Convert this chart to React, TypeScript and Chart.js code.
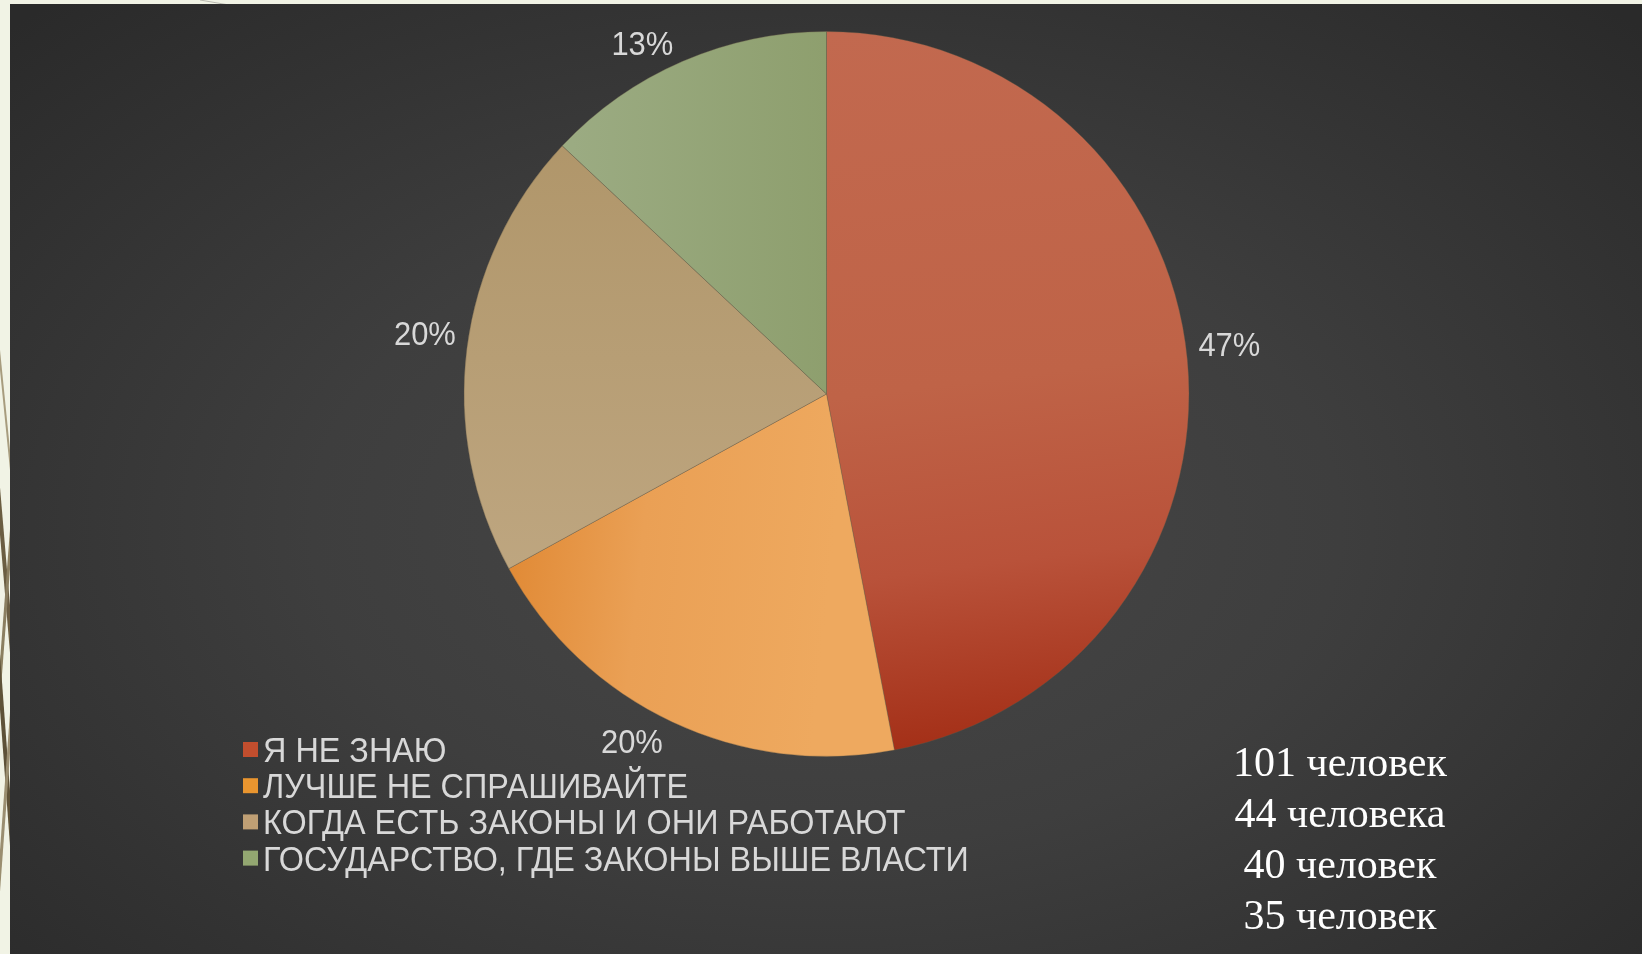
import React, { useEffect, useRef } from "react";
import { Chart, registerables } from "chart.js";

Chart.register(...registerables);

// ---------- data ----------
const categories = [
  "Я НЕ ЗНАЮ",
  "ЛУЧШЕ НЕ СПРАШИВАЙТЕ",
  "КОГДА ЕСТЬ ЗАКОНЫ И ОНИ РАБОТАЮТ",
  "ГОСУДАРСТВО, ГДЕ ЗАКОНЫ ВЫШЕ ВЛАСТИ",
];
const shares = [47, 20, 20, 13];
const peopleCounts = [101, 44, 40, 35];
const peopleWords = ["человек", "человека", "человек", "человек"];

// ---------- styles ----------
const legendColors = ["#c24e2e", "#e9952f", "#bf9f74", "#93a771"];
const SANS = '"Liberation Sans", Arial, sans-serif';
const SERIF = '"Liberation Serif", "Times New Roman", serif';

function sliceFill(chart: any, index: number): any {
  const area = chart.chartArea;
  if (!area) return legendColors[index];
  const ctx = chart.ctx;
  const cx = (area.left + area.right) / 2;
  const cy = (area.top + area.bottom) / 2;
  const r = Math.min(area.right - area.left, area.bottom - area.top) / 2;
  let g: CanvasGradient;
  if (index === 0) {
    g = ctx.createLinearGradient(cx, cy - r, cx + r * 0.25, cy + r);
    g.addColorStop(0, "#c2694f");
    g.addColorStop(0.5, "#bf6347");
    g.addColorStop(0.75, "#b9523a");
    g.addColorStop(1, "#a32e16");
  } else if (index === 1) {
    g = ctx.createLinearGradient(cx - r * 0.95, cy + r * 0.5, cx, cy + r * 0.6);
    g.addColorStop(0, "#df8630");
    g.addColorStop(0.45, "#eaa055");
    g.addColorStop(1, "#eea95f");
  } else if (index === 2) {
    g = ctx.createLinearGradient(cx, cy - r * 0.7, cx, cy + r * 0.5);
    g.addColorStop(0, "#b0966a");
    g.addColorStop(1, "#bea680");
  } else {
    g = ctx.createLinearGradient(cx - r * 0.7, cy - r * 0.5, cx, cy - r * 0.5);
    g.addColorStop(0, "#9bab82");
    g.addColorStop(1, "#8e9f6e");
  }
  return g;
}

function drawNarrow(ctx: CanvasRenderingContext2D, text: string, x: number, y: number, sx: number) {
  ctx.save();
  ctx.translate(x, y);
  ctx.scale(sx, 1);
  ctx.fillText(text, 0, 0);
  ctx.restore();
}

const labelPlugin = {
  id: "sliceLabelsAndLegend",
  afterDatasetsDraw(chart: any, _args: any, opts: any) {
    const ctx = chart.ctx as CanvasRenderingContext2D;
    const meta = chart.getDatasetMeta(0);
    const values = chart.data.datasets[0].data as number[];
    const total = values.reduce((a, b) => a + b, 0);
    ctx.save();
    const fs = opts.labelSize;
    const sx = opts.labelScale;
    const capH = fs * 0.716;
    ctx.font = `${fs}px ${SANS}`;
    ctx.fillStyle = "#d8d8d8";
    ctx.textAlign = "center";
    ctx.textBaseline = "alphabetic";
    meta.data.forEach((arc: any, i: number) => {
      const p = arc.getProps(["x", "y", "startAngle", "endAngle", "outerRadius"], true);
      const mid = (p.startAngle + p.endAngle) / 2;
      const dx = Math.cos(mid);
      const dy = Math.sin(mid);
      const text = Math.round((values[i] / total) * 100) + "%";
      const w = ctx.measureText(text).width * sx + 16;
      const h = capH + 7;
      const px = p.x + dx * (p.outerRadius + 3);
      const py = p.y + dy * (p.outerRadius + 3);
      const cx = px + Math.sign(dx) * (w / 2);
      const cy = py + Math.sign(dy) * (h / 2);
      drawNarrow(ctx, text, cx, cy + capH / 2, sx);
    });

    // legend
    const labels = chart.data.labels as string[];
    ctx.textAlign = "left";
    ctx.font = `${opts.fontSize}px ${SANS}`;
    labels.forEach((lab, i) => {
      const rowY = opts.y + i * opts.rowGap;
      ctx.fillStyle = legendColors[i];
      ctx.fillRect(opts.x, rowY - opts.box / 2, opts.box, opts.box);
      ctx.fillStyle = "#d8d8d8";
      drawNarrow(ctx, lab, opts.x + opts.box + 5, rowY + (opts.fontSize * 0.716) / 2, opts.textScale);
    });
    ctx.restore();
  },
};

export default function App() {
  const canvasRef = useRef<HTMLCanvasElement | null>(null);

  useEffect(() => {
    if (!canvasRef.current) return;
    const chart = new Chart(canvasRef.current, {
      type: "pie",
      data: {
        labels: categories,
        datasets: [
          {
            data: shares,
            backgroundColor: (c: any) => sliceFill(c.chart, c.dataIndex),
            borderColor: "rgba(100,90,70,0.35)",
            borderWidth: 1,
          },
        ],
      },
      options: {
        animation: false,
        responsive: true,
        maintainAspectRatio: false,
        layout: { padding: { top: 31, bottom: 197, left: 463, right: 452 } },
        plugins: {
          legend: { display: false },
          tooltip: { enabled: false },
          sliceLabelsAndLegend: {
            x: 243,
            y: 749.5,
            rowGap: 36.2,
            box: 15,
            fontSize: 35,
            textScale: 0.925,
            labelSize: 34,
            labelScale: 0.91,
          },
        } as any,
      },
      plugins: [labelPlugin],
    });
    return () => chart.destroy();
  }, []);

  return (
    <div
      style={{
        position: "fixed",
        left: 0,
        top: 0,
        width: 1642,
        height: 954,
        background: "#f1f3e5",
        overflow: "hidden",
      }}
    >
      <svg width={1642} height={954} style={{ position: "absolute", left: 0, top: 0 }}>
        <path d="M -6 300 L 16 520" stroke="#a79c7e" strokeWidth={2} fill="none" />
        <path d="M -6 440 L 16 700" stroke="#6b5e42" strokeWidth={4} fill="none" />
        <path d="M 16 470 L -6 760" stroke="#8b7f60" strokeWidth={3} fill="none" />
        <path d="M -6 600 L 16 900" stroke="#5e5238" strokeWidth={4} fill="none" />
        <path d="M 16 650 L -6 954" stroke="#9a8e70" strokeWidth={3} fill="none" />
        <path d="M 200 0 L 235 6" stroke="#b9b9b0" strokeWidth={1} fill="none" />
      </svg>
      <div
        style={{
          position: "absolute",
          left: 10,
          top: 4,
          right: 0,
          bottom: 0,
          background:
            "radial-gradient(ellipse 70% 75% at 50% 55%, #474747 0%, #3e3e3e 45%, #333333 75%, #2a2a2a 100%)",
        }}
      />
      <div style={{ position: "absolute", left: 0, top: 0, width: 1642, height: 954 }}>
        <canvas ref={canvasRef} />
      </div>
      <div
        style={{
          position: "absolute",
          left: 1340 - 150,
          top: 737,
          width: 300,
          textAlign: "center",
          color: "#ffffff",
          fontFamily: SERIF,
          fontSize: 42,
          lineHeight: "51px",
        }}
      >
        {peopleCounts.map((n, i) => (
          <div key={i}>
            {n} {peopleWords[i]}
          </div>
        ))}
      </div>
    </div>
  );
}
